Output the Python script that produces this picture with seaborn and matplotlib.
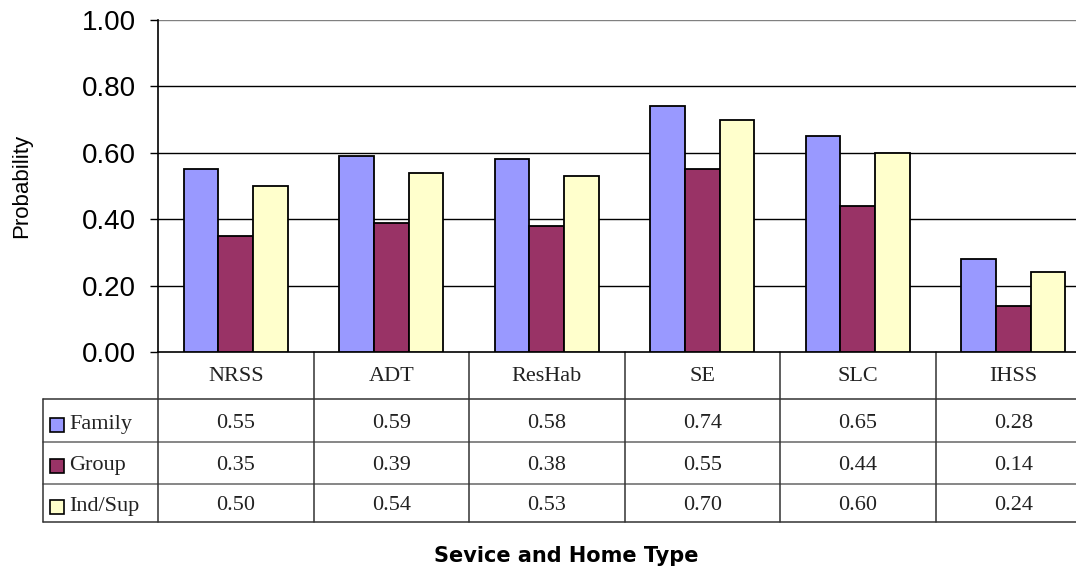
import matplotlib
matplotlib.use("Agg")
import matplotlib.pyplot as plt
import matplotlib.transforms as mtransforms
import seaborn as sns
import pandas as pd

categories = ["NRSS", "ADT", "ResHab", "SE", "SLC", "IHSS"]
series_names = ["Family", "Group", "Ind/Sup"]
family = [0.55, 0.59, 0.58, 0.74, 0.65, 0.28]
group = [0.35, 0.39, 0.38, 0.55, 0.44, 0.14]
indsup = [0.50, 0.54, 0.53, 0.70, 0.60, 0.24]
yticks = [0.0, 0.2, 0.4, 0.6, 0.8, 1.0]
colors = ["#9999FF", "#993366", "#FFFFCC"]

values = [family, group, indsup]
rows = []
for s, vals in zip(series_names, values):
    for c, v in zip(categories, vals):
        rows.append({"cat": c, "series": s, "val": v})
df = pd.DataFrame(rows)

sns.set_theme(style="white")
plt.rcParams["font.family"] = ["Liberation Sans", "DejaVu Sans"]

W, H = 1076, 567
fig = plt.figure(figsize=(W / 100, H / 100), dpi=100)
ax_left, ax_top, ax_bot, ax_right = 158, 20, 352, 1091
ax = fig.add_axes([ax_left / W, 1 - ax_bot / H, (ax_right - ax_left) / W, (ax_bot - ax_top) / H])

sns.barplot(data=df, x="cat", y="val", hue="series", order=categories,
            hue_order=series_names, palette=colors, saturation=1, edgecolor="black",
            linewidth=1.3, width=0.667, gap=0, legend=False, ax=ax, zorder=3)

ax.set_xlim(-0.5, 5.5)
ax.set_ylim(0, 1.0)
ax.set_yticks(yticks)
ax.set_yticklabels([f"{t:.2f}" for t in yticks], fontsize=20, color="black")
ax.set_xticks([])
ax.tick_params(axis="y", direction="out", length=6, width=1, color="black", pad=10, left=True)
for t in yticks[1:]:
    ax.axhline(t, color="#808080" if t == 1.0 else "black", lw=1.0, zorder=1)

for sp in ["top", "right"]:
    ax.spines[sp].set_visible(False)
ax.spines["left"].set_color("black")
ax.spines["bottom"].set_color("black")
ax.spines["left"].set_linewidth(1.2)
ax.spines["bottom"].set_linewidth(1.2)

ax.set_xlabel("")
ax.set_ylabel("Probability", fontsize=16, color="black")
ax.yaxis.set_label_coords((32 - ax_left) / (ax_right - ax_left), 0.5)

# data table below the axes
trans = mtransforms.blended_transform_factory(ax.transData, ax.transAxes)
axh = ax_bot - ax_top
def yf(py):
    return (ax_bot - py) / axh

unit = (ax_right - ax_left) / 6.0
def xd(px):
    return (px - ax_left) / unit - 0.5

row_lines = [399, 442, 484, 522]
lc = "#333333"
xl = xd(43)
for i, py in enumerate(row_lines):
    ax.plot([xl, 5.6], [yf(py), yf(py)], transform=trans, color=lc if i in (0, 3) else "#666666",
            lw=1.1, clip_on=False)
ax.plot([xl, xl], [yf(399), yf(522)], transform=trans, color=lc, lw=1.1, clip_on=False)
for xv in [-0.5 + k for k in range(0, 6)]:
    ax.plot([xv, xv], [0, yf(522)], transform=trans, color=lc, lw=1.1, clip_on=False)

serif = ["Liberation Serif", "DejaVu Serif"]
hdr_y = yf((352 + 399) / 2 + 1)
for i, c in enumerate(categories):
    ax.text(i, hdr_y, c, transform=trans, ha="center", va="center", fontsize=16,
            family=serif, color="#222222")
row_centers = [(399 + 442) / 2 + 3.5, (442 + 484) / 2 + 2.5, (484 + 522) / 2 + 3]
swatch_centers = [(399 + 442) / 2 + 4, (442 + 484) / 2 + 3, (484 + 522) / 2 + 4]
for s, vals, col, ry, sy in zip(series_names, values, colors, row_centers, swatch_centers):
    y = yf(ry)
    ax.plot([xd(56.5)], [yf(sy)], transform=trans, marker="s", markersize=9.5,
            markerfacecolor=col, markeredgecolor="black", markeredgewidth=1.2,
            linestyle="none", clip_on=False)
    ax.text(xd(69), y, s, transform=trans, ha="left", va="center", fontsize=16,
            family=serif, color="#222222")
    for i, v in enumerate(vals):
        ax.text(i, y, f"{v:.2f}", transform=trans, ha="center", va="center",
                fontsize=16, family=serif, color="#222222")

fig.text(566 / W, 1 - 556 / H, "Sevice and Home Type", ha="center", va="center",
         fontsize=15, fontweight="bold", family=["DejaVu Sans"], color="black")

fig.savefig("out.png", dpi=100)
